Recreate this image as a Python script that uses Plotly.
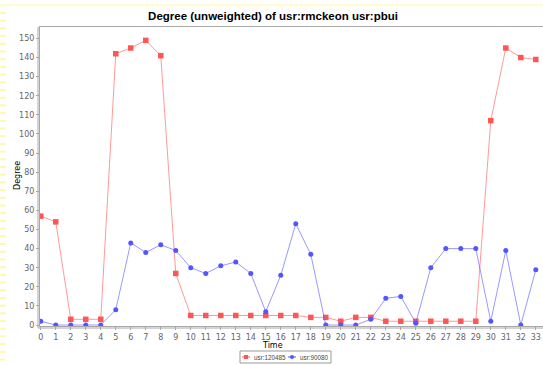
import plotly.graph_objects as go

# Degree per time step for the two users
time_steps = list(range(34))
user_a_name = "usr:120485"
user_a_degree = [57, 54, 3, 3, 3, 142, 145, 149, 141, 27,
                 5, 5, 5, 5, 5, 5, 5, 5, 4, 4,
                 2, 4, 4, 2, 2, 2, 2, 2, 2, 2,
                 107, 145, 140, 139]
user_b_name = "usr:90080"
user_b_degree = [2, 0, 0, 0, 0, 8, 43, 38, 42, 39,
                 30, 27, 31, 33, 27, 7, 26, 53, 37, 0,
                 0, 0, 3, 14, 15, 1, 30, 40, 40, 40,
                 2, 39, 0, 29]
y_ticks = list(range(0, 151, 10))

W, H = 543, 365
L, R, T, B = 40, 543, 27, 326  # plot area in pixels


def px(x):
    return (x - L) / (R - L)


def py(y):
    return (B - y) / (B - T)


RED = "#FF5555"
BLUE = "#5555FF"

fig = go.Figure()
fig.add_trace(go.Scatter(
    x=time_steps, y=user_a_degree, mode="lines+markers", name=user_a_name,
    line=dict(color="rgba(255,85,85,0.6)", width=1),
    marker=dict(symbol="square", size=5.5, color=RED)))
fig.add_trace(go.Scatter(
    x=time_steps, y=user_b_degree, mode="lines+markers", name=user_b_name,
    line=dict(color="rgba(85,85,255,0.6)", width=1),
    marker=dict(symbol="circle", size=5, color=BLUE)))

shapes = []
annotations = []
grey = "#A8A8A8"
# outer axis lines offset from the plot outline
shapes.append(dict(type="line", xref="paper", yref="paper",
                   x0=px(38), x1=px(38), y0=py(T), y1=py(328),
                   line=dict(color=grey, width=1)))
shapes.append(dict(type="line", xref="paper", yref="paper",
                   x0=px(38), x1=px(W + 2), y0=py(328), y1=py(328),
                   line=dict(color=grey, width=1)))
# pale yellow border decoration
yellow = "#FFF8B0"
shapes.append(dict(type="rect", xref="paper", yref="paper",
                   x0=px(0), x1=px(W), y0=py(4), y1=py(6.5),
                   line=dict(width=0), fillcolor="#FFFBD8", layer="below"))
yy = 12.0
while yy < H:
    shapes.append(dict(type="rect", xref="paper", yref="paper",
                       x0=px(0), x1=px(6), y0=py(yy), y1=py(yy + 2),
                       line=dict(width=0), fillcolor=yellow, layer="below"))
    yy += 7.7

# legend box drawn below the chart
leg_font = dict(family="Liberation Sans", size=6.3, color="#444444")
shapes.append(dict(type="rect", xref="paper", yref="paper",
                   x0=px(240), x1=px(331), y0=py(351), y1=py(363),
                   line=dict(color="#999999", width=1), fillcolor="white"))
legend_items = [(user_a_name, RED, "square", 244), (user_b_name, BLUE, "circle", 290)]
for name, col, sym, x0 in legend_items:
    shapes.append(dict(type="line", xref="paper", yref="paper",
                       x0=px(x0 - 2), x1=px(x0 + 6), y0=py(357), y1=py(357),
                       line=dict(color=col, width=1)))
    shapes.append(dict(type="rect" if sym == "square" else "circle",
                       xref="paper", yref="paper",
                       x0=px(x0), x1=px(x0 + 4), y0=py(355), y1=py(359),
                       line=dict(width=0), fillcolor=col))
    annotations.append(dict(text=name, xref="paper", yref="paper",
                            x=px(x0 + 8), y=py(357), xanchor="left",
                            yanchor="middle", showarrow=False, font=leg_font))

# axis titles
title_font = dict(family="DejaVu Sans", size=8, color="black")
annotations.append(dict(text="Time", xref="paper", yref="paper",
                        x=px(272), y=py(345), xanchor="center", yanchor="middle",
                        showarrow=False, font=title_font))
annotations.append(dict(text="Degree", xref="paper", yref="paper",
                        x=px(17), y=py(176), xanchor="center", yanchor="middle",
                        textangle=-90, showarrow=False, font=title_font))

tick_font = dict(family="DejaVu Sans", size=8, color="#666666")

fig.update_layout(
    width=W, height=H, autosize=False,
    margin=dict(l=L, r=W - R, t=T, b=H - B, pad=0),
    paper_bgcolor="white", plot_bgcolor="white",
    showlegend=False,
    title=dict(text="<b>Degree (unweighted) of usr:rmckeon usr:pbui</b>",
               x=273 / W, xanchor="center", xref="container",
               y=1 - 16 / H, yanchor="middle",
               font=dict(family="Liberation Sans", size=11.5, color="black")),
    xaxis=dict(range=[-0.05, 33.48], tickmode="array", tickvals=time_steps,
               showgrid=False, zeroline=False, showline=True, linecolor=grey,
               mirror=True, ticks="outside", ticklen=3, tickcolor=grey,
               tickfont=tick_font, automargin=False),
    yaxis=dict(range=[-0.5, 156], tickmode="array", tickvals=y_ticks,
               showgrid=False, zeroline=False, showline=True, linecolor=grey,
               ticks="outside", ticklen=3, tickcolor=grey,
               tickfont=tick_font, automargin=False),
    shapes=shapes,
    annotations=annotations,
)

fig.write_html("out.html")
